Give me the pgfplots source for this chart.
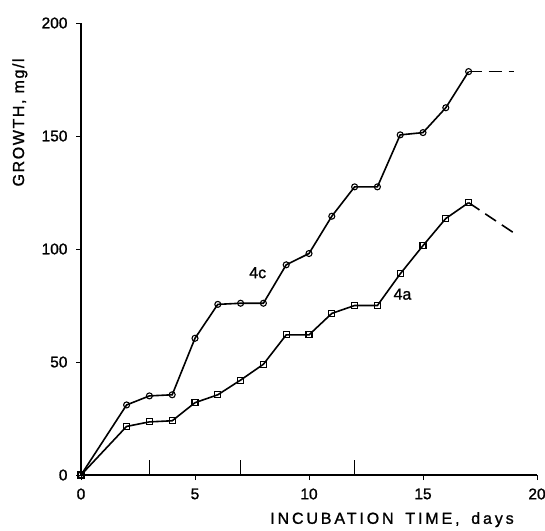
\documentclass[border=0pt]{standalone}
\usepackage{pgfplots}
\pgfplotsset{compat=1.18}
\usepackage{fontspec}
\setmainfont[FakeBold=1.2, AutoFakeBold=false]{Liberation Sans}
\newfontfamily\spaced[LetterSpace=10, FakeBold=1.2]{Liberation Sans}
\newfontfamily\wide[LetterSpace=18, WordSpace=1.6, FakeBold=1.2]{Liberation Sans}

\begin{document}
\begin{tikzpicture}
\begin{axis}[
  scale only axis,
  width=456pt, height=452pt,
  xmin=0, xmax=20, ymin=0, ymax=200,
  axis x line*=bottom, axis y line*=left,
  axis line style={-, line width=1.1pt},
  xtick={0,5,10,15,20}, ytick={0,50,100,150,200},
  tick align=outside, major tick length=5pt,
  tick style={line width=0.9pt, black},
  extra x ticks={3,7,12}, extra x tick labels={},
  extra x tick style={tick align=inside, major tick length=15pt},
  tick label style={font=\fontsize{15.5}{17}\selectfont},
  xticklabel style={yshift=-5pt},
  yticklabel style={xshift=-5pt},
  /pgf/number format/assume math mode=true,
  xlabel={\wide INCUBATION TIME, days},
  ylabel={\spaced GROWTH, mg/l},
  xlabel style={font=\fontsize{16}{18}\selectfont, at={(axis description cs:0.682,-0.108)}, anchor=base},
  ylabel style={font=\fontsize{16}{18}\selectfont, at={(axis description cs:-0.134,0.78)}, anchor=center},
  every axis plot/.append style={line width=1.6pt, black},
]
% 4c, circles
\addplot[mark=o, mark size=3pt, mark options={line width=1.1pt, solid, fill=white}] coordinates {
  (0,0) (2,31) (3,35) (4,35.5) (5,60.5) (6,75.5) (7,76) (8,76) (9,93) (10,98)
  (11,114.5) (12,127.5) (13,127.5) (14,150.5) (15,151.5) (16,162.5) (17,178.5)
};
\addplot[dash pattern=on 13pt off 7pt] coordinates {(17,178.5) (19,178.5)};
% 4a, squares
\addplot[mark=square, mark size=3pt, mark options={line width=1.1pt, solid, fill=white}] coordinates {
  (0,0) (2,21.5) (3,23.5) (4,24) (5,32) (6,35.5) (7,42) (8,49) (9,62) (10,62)
  (11,71.5) (12,75) (13,75) (14,89) (15,101.5) (16,113.5) (17,120.5)
};
\addplot[dash pattern=on 13pt off 7pt] coordinates {(17,120.5) (19,107)};
\node[font=\fontsize{16}{18}\selectfont] at (axis cs:7.75,89.5) {4c};
\node[font=\fontsize{16}{18}\selectfont] at (axis cs:14.1,80) {4a};
\end{axis}
\pgfresetboundingbox
\path[use as bounding box] (-81pt,-55pt) rectangle (464pt,475pt);
\end{tikzpicture}
\end{document}
